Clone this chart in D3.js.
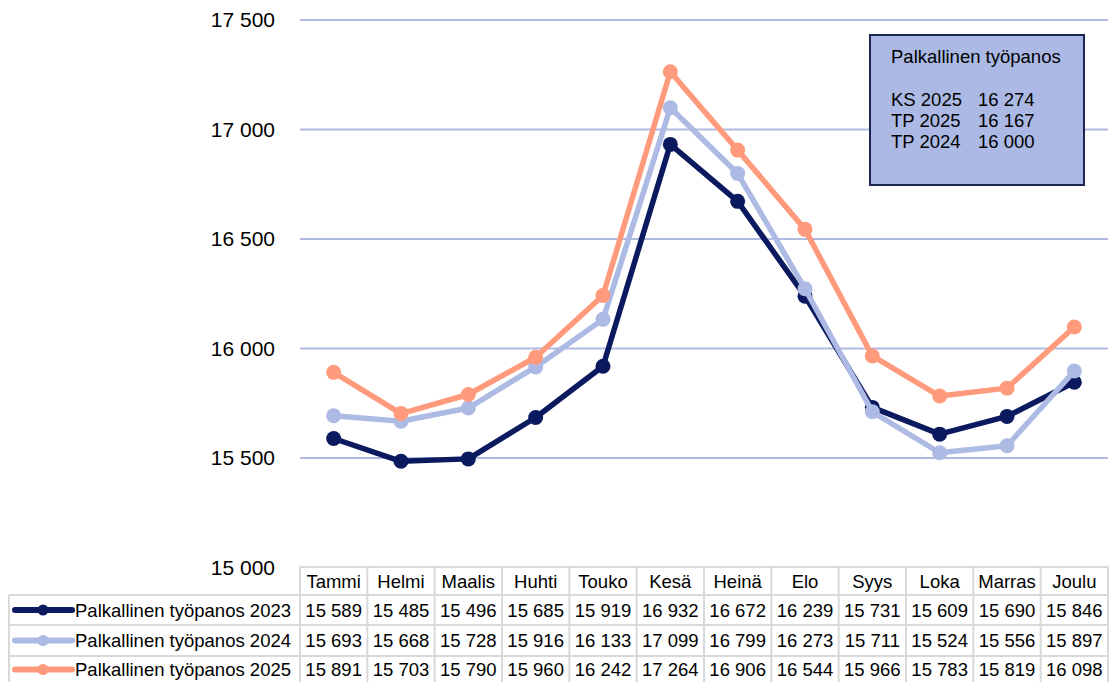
<!DOCTYPE html>
<html>
<head>
<meta charset="utf-8">
<script src="https://cdn.jsdelivr.net/npm/d3@7"></script>
<style>
  html, body { margin: 0; padding: 0; background: #fff; }
  svg { display: block; font-family: "Liberation Sans", Arial, sans-serif; }
</style>
</head>
<body>
<svg id="chart" width="1116" height="682"></svg>
<script>
const months = ["Tammi","Helmi","Maalis","Huhti","Touko","Kesä","Heinä","Elo","Syys","Loka","Marras","Joulu"];
const seriesNames = ["Palkallinen työpanos 2023","Palkallinen työpanos 2024","Palkallinen työpanos 2025"];
const values2023 = [15589,15485,15496,15685,15919,16932,16672,16239,15731,15609,15690,15846];
const values2024 = [15693,15668,15728,15916,16133,17099,16799,16273,15711,15524,15556,15897];
const values2025 = [15891,15703,15790,15960,16242,17264,16906,16544,15966,15783,15819,16098];
const yTicks = [15000,15500,16000,16500,17000,17500];
const boxTitle = "Palkallinen työpanos";
const boxLabels = ["KS 2025","TP 2025","TP 2024"];
const boxValues = [16274,16167,16000];

const colors = ["#0b1a5e","#adbae4","#ff9a7c"];
const series = [values2023, values2024, values2025];

const svg = d3.select("#chart");
const fmt = v => d3.format(",")(v).replace(/,/g, " ");

const left = 300, right = 1108;
const x = d3.scaleBand().domain(months).range([left, right]);
const y = d3.scaleLinear().domain([15000, 17500]).range([567.5, 20]);

// gridlines
svg.append("g").selectAll("line").data(yTicks.filter(t => t > 15000)).join("line")
  .attr("x1", left).attr("x2", right)
  .attr("y1", d => y(d)).attr("y2", d => y(d))
  .attr("stroke", "#b0b9e2").attr("stroke-width", 2);

// y axis labels
const yAxis = d3.axisLeft(y).tickValues(yTicks).tickFormat(fmt).tickSize(0).tickPadding(0);
const yg = svg.append("g").attr("transform", "translate(275,0)").call(yAxis);
yg.select(".domain").remove();
yg.selectAll("text").attr("font-size", 21).attr("fill", "#000")
  .attr("font-family", "Liberation Sans, Arial, sans-serif");

// lines
const line = d3.line().x((d, i) => x(months[i]) + x.bandwidth() / 2).y(d => y(d));
series.forEach((vals, si) => {
  const g = svg.append("g");
  g.append("path").datum(vals).attr("d", line)
    .attr("fill", "none").attr("stroke", colors[si]).attr("stroke-width", 5.5)
    .attr("stroke-linejoin", "round");
  g.selectAll("circle").data(vals).join("circle")
    .attr("cx", (d, i) => x(months[i]) + x.bandwidth() / 2)
    .attr("cy", d => y(d)).attr("r", 7.5).attr("fill", colors[si]);
});

// info box
const box = svg.append("g");
box.append("rect").attr("x", 870).attr("y", 35).attr("width", 214).attr("height", 150)
  .attr("fill", "#abb9e4").attr("stroke", "#1b2550").attr("stroke-width", 2);
box.append("text").attr("x", 891).attr("y", 63).attr("font-size", 18.5).text(boxTitle);
boxLabels.forEach((l, i) => {
  box.append("text").attr("x", 891).attr("y", 106 + i * 21).attr("font-size", 18.5).text(l);
  box.append("text").attr("x", 978).attr("y", 106 + i * 21).attr("font-size", 18.5).text(fmt(boxValues[i]));
});

// data table
const tbl = svg.append("g");
const gridColor = "#d9d9d9";
const rowTops = [567, 595, 625, 656, 687];
const labelLeft = 9;
tbl.append("line").attr("x1", left).attr("x2", right).attr("y1", rowTops[0]).attr("y2", rowTops[0])
  .attr("stroke", gridColor).attr("stroke-width", 2);
for (let r = 1; r < rowTops.length; r++) {
  tbl.append("line").attr("x1", labelLeft).attr("x2", right).attr("y1", rowTops[r]).attr("y2", rowTops[r])
    .attr("stroke", gridColor).attr("stroke-width", 2);
}
tbl.append("line").attr("x1", labelLeft).attr("x2", labelLeft).attr("y1", rowTops[1]).attr("y2", rowTops[4])
  .attr("stroke", gridColor).attr("stroke-width", 2);
months.forEach(m => {
  tbl.append("line").attr("x1", x(m)).attr("x2", x(m)).attr("y1", rowTops[0]).attr("y2", rowTops[4])
    .attr("stroke", gridColor).attr("stroke-width", 2);
});
tbl.append("line").attr("x1", right).attr("x2", right).attr("y1", rowTops[0]).attr("y2", rowTops[4])
  .attr("stroke", gridColor).attr("stroke-width", 2);

tbl.selectAll("text.hdr").data(months).join("text").attr("class", "hdr")
  .attr("x", d => x(d) + x.bandwidth() / 2).attr("y", (rowTops[0] + rowTops[1]) / 2 + 6.5)
  .attr("text-anchor", "middle").attr("font-size", 18.5).text(d => d);

series.forEach((vals, si) => {
  const cy = (rowTops[si + 1] + rowTops[si + 2]) / 2 - (si === 2 ? 2 : 0);
  tbl.append("line").attr("x1", 15).attr("x2", 72).attr("y1", cy).attr("y2", cy)
    .attr("stroke", colors[si]).attr("stroke-width", 6).attr("stroke-linecap", "round");
  tbl.append("circle").attr("cx", 43).attr("cy", cy).attr("r", 5.5).attr("fill", colors[si]);
  tbl.append("text").attr("x", 75).attr("y", cy + 6.5).attr("font-size", 18.5).text(seriesNames[si]);
  tbl.selectAll("text.v" + si).data(vals).join("text").attr("class", "v" + si)
    .attr("x", (d, i) => x(months[i]) + x.bandwidth() / 2).attr("y", cy + 6.5)
    .attr("text-anchor", "middle").attr("font-size", 18.5).text(d => fmt(d));
});
</script>
</body>
</html>
